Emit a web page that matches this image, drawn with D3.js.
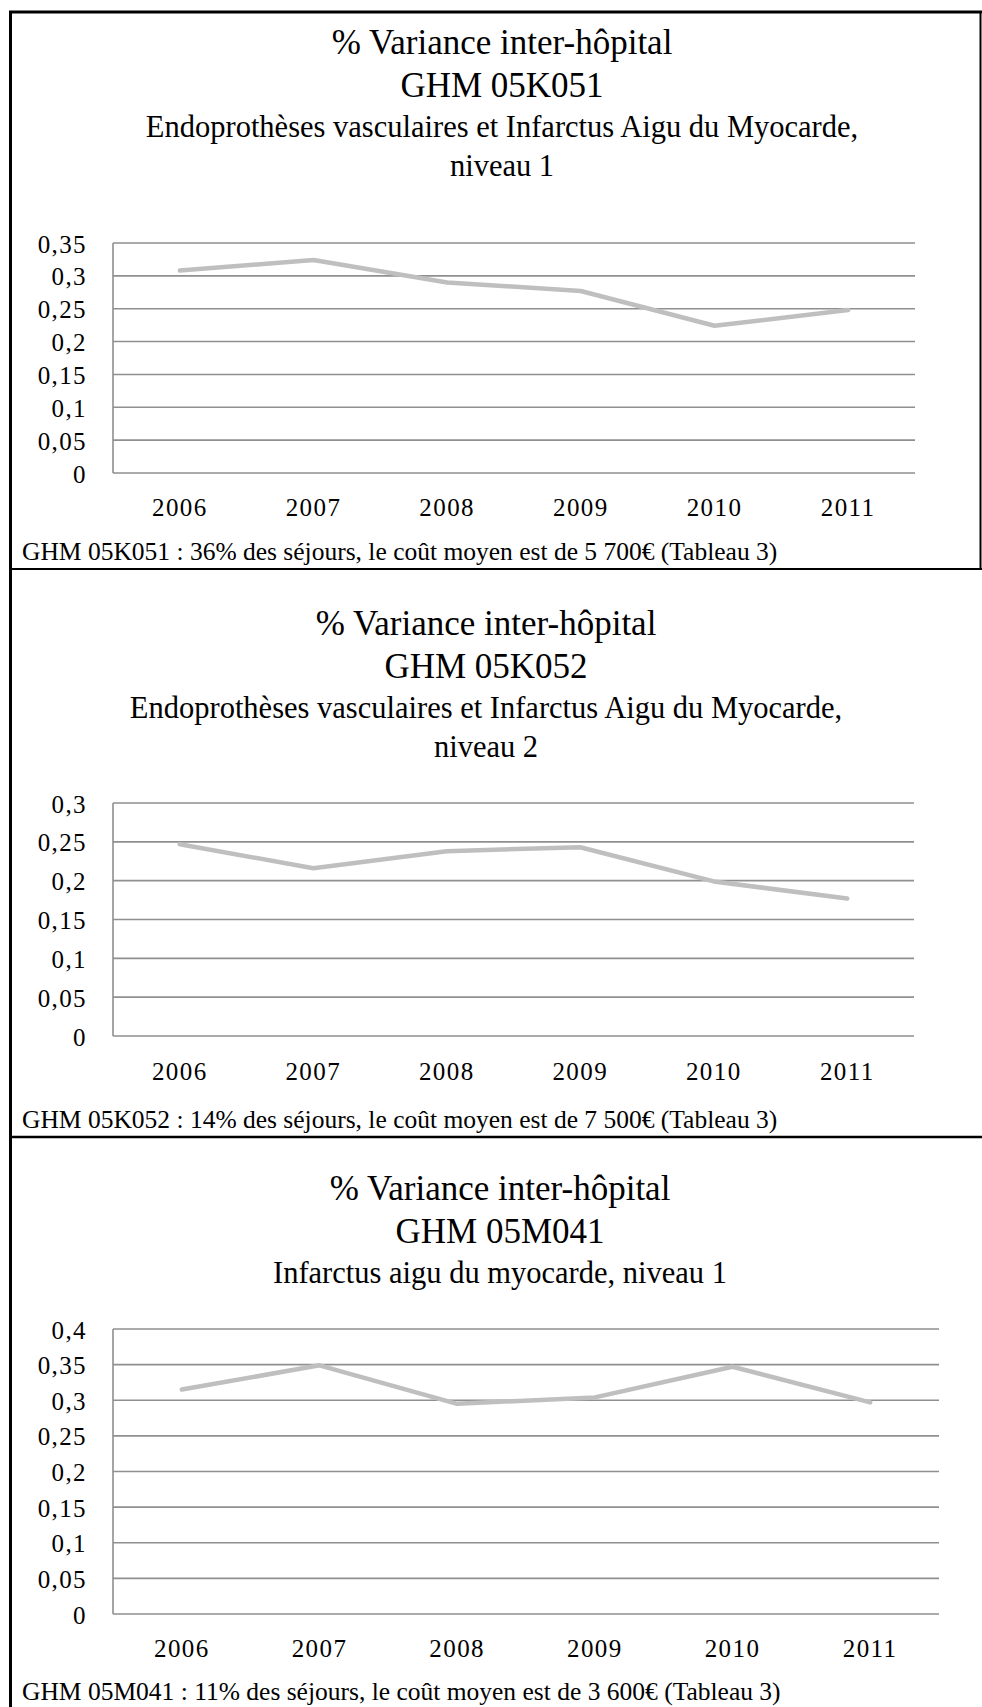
<!DOCTYPE html>
<html>
<head>
<meta charset="utf-8">
<script src="https://cdn.jsdelivr.net/npm/d3@7"></script>
<style>
  body { margin: 0; background: #fff; }
  .tick-label { font-family: "Liberation Serif", serif; font-size: 25px; letter-spacing: 1.4px; fill: #000; }
  .title { font-family: "Liberation Serif", serif; fill: #000; }
</style>
</head>
<body>
<div class="canvas"></div>
<script>
const dims = { width: 982, height: 1707 };

// data
const years = ["2006", "2007", "2008", "2009", "2010", "2011"];
const variance05K051 = [0.308, 0.324, 0.29, 0.277, 0.224, 0.248];
const variance05K052 = [0.247, 0.216, 0.238, 0.243, 0.199, 0.177];
const variance05M041 = [0.315, 0.349, 0.295, 0.304, 0.347, 0.297];

const ticks05K051 = [0, 0.05, 0.1, 0.15, 0.2, 0.25, 0.3, 0.35];
const ticks05K052 = [0, 0.05, 0.1, 0.15, 0.2, 0.25, 0.3];
const ticks05M041 = [0, 0.05, 0.1, 0.15, 0.2, 0.25, 0.3, 0.35, 0.4];

const titles05K051 = [
  "% Variance inter-hôpital",
  "GHM 05K051",
  "Endoprothèses vasculaires et Infarctus Aigu du Myocarde,",
  "niveau 1",
];
const titles05K052 = [
  "% Variance inter-hôpital",
  "GHM 05K052",
  "Endoprothèses vasculaires et Infarctus Aigu du Myocarde,",
  "niveau 2",
];
const titles05M041 = [
  "% Variance inter-hôpital",
  "GHM 05M041",
  "Infarctus aigu du myocarde, niveau 1",
];

const notes = [
  "GHM 05K051 : 36% des séjours, le coût moyen est de 5 700€ (Tableau 3)",
  "GHM 05K052 : 14% des séjours, le coût moyen est de 7 500€ (Tableau 3)",
  "GHM 05M041 : 11% des séjours, le coût moyen est de 3 600€ (Tableau 3)",
];

const fmt = (d) => String(+d.toFixed(2)).replace(".", ",");

const svg = d3
  .select(".canvas")
  .append("svg")
  .attr("width", dims.width)
  .attr("height", dims.height);

// frame lines
const frame = svg.append("g").attr("stroke", "#000");
frame.append("line").attr("x1", 9).attr("x2", 982).attr("y1", 12).attr("y2", 12).attr("stroke-width", 3);
frame.append("line").attr("x1", 10.5).attr("x2", 10.5).attr("y1", 11).attr("y2", dims.height).attr("stroke-width", 3);
frame.append("line").attr("x1", 980.5).attr("x2", 980.5).attr("y1", 11).attr("y2", 570).attr("stroke-width", 2);
frame.append("line").attr("x1", 10).attr("x2", 982).attr("y1", 569).attr("y2", 569).attr("stroke-width", 2);
frame.append("line").attr("x1", 10).attr("x2", 982).attr("y1", 1137).attr("y2", 1137).attr("stroke-width", 2.5);

function drawPanel(values, ticks, titles, note, layout) {
  const g = svg.append("g");

  // titles
  titles.forEach((t, i) => {
    g.append("text")
      .attr("class", "title")
      .attr("x", layout.cx)
      .attr("y", layout.titleY[i])
      .attr("text-anchor", "middle")
      .style("font-size", i < 2 ? "35px" : "30.5px")
      .text(t);
  });

  const x = d3
    .scaleBand()
    .domain(years)
    .range([layout.left, layout.right]);

  const y = d3
    .scaleLinear()
    .domain([0, d3.max(ticks)])
    .range([layout.bottom, layout.top]);

  // grid
  g.append("g")
    .selectAll("line")
    .data(ticks)
    .join("line")
    .attr("x1", layout.left)
    .attr("x2", layout.right)
    .attr("y1", (d) => y(d))
    .attr("y2", (d) => y(d))
    .attr("stroke", "#8f8f8f")
    .attr("stroke-width", 1.6);

  g.append("line")
    .attr("x1", layout.left)
    .attr("x2", layout.left)
    .attr("y1", layout.top)
    .attr("y2", layout.bottom)
    .attr("stroke", "#8f8f8f")
    .attr("stroke-width", 1.6);

  // y labels
  g.append("g")
    .selectAll("text")
    .data(ticks)
    .join("text")
    .attr("class", "tick-label")
    .attr("x", layout.left - 26)
    .attr("y", (d) => y(d))
    .attr("dy", "0.38em")
    .attr("text-anchor", "end")
    .text(fmt);

  // x labels
  g.append("g")
    .selectAll("text")
    .data(years)
    .join("text")
    .attr("class", "tick-label")
    .attr("x", (d) => x(d) + x.bandwidth() / 2)
    .attr("y", layout.xLabelY)
    .attr("text-anchor", "middle")
    .text((d) => d);

  // series line
  const line = d3
    .line()
    .x((d, i) => x(years[i]) + x.bandwidth() / 2)
    .y((d) => y(d));

  g.append("path")
    .datum(values)
    .attr("d", line)
    .attr("fill", "none")
    .attr("stroke", "#bfbfbf")
    .attr("stroke-width", 4.5)
    .attr("stroke-linejoin", "round")
    .attr("stroke-linecap", "round");

  // footnote
  g.append("text")
    .attr("class", "title")
    .attr("x", 22)
    .attr("y", layout.noteY)
    .style("font-size", "25.5px")
    .text(note);
}

drawPanel(variance05K051, ticks05K051, titles05K051, notes[0], {
  cx: 502, titleY: [54, 97, 137, 176],
  left: 113, right: 915, top: 243, bottom: 473,
  xLabelY: 516, noteY: 560,
});

drawPanel(variance05K052, ticks05K052, titles05K052, notes[1], {
  cx: 486, titleY: [635, 678, 718, 757],
  left: 113, right: 914, top: 803, bottom: 1036,
  xLabelY: 1080, noteY: 1128,
});

drawPanel(variance05M041, ticks05M041, titles05M041, notes[2], {
  cx: 500, titleY: [1200, 1243, 1283],
  left: 113, right: 939, top: 1329, bottom: 1614,
  xLabelY: 1657, noteY: 1700,
});
</script>
</body>
</html>
